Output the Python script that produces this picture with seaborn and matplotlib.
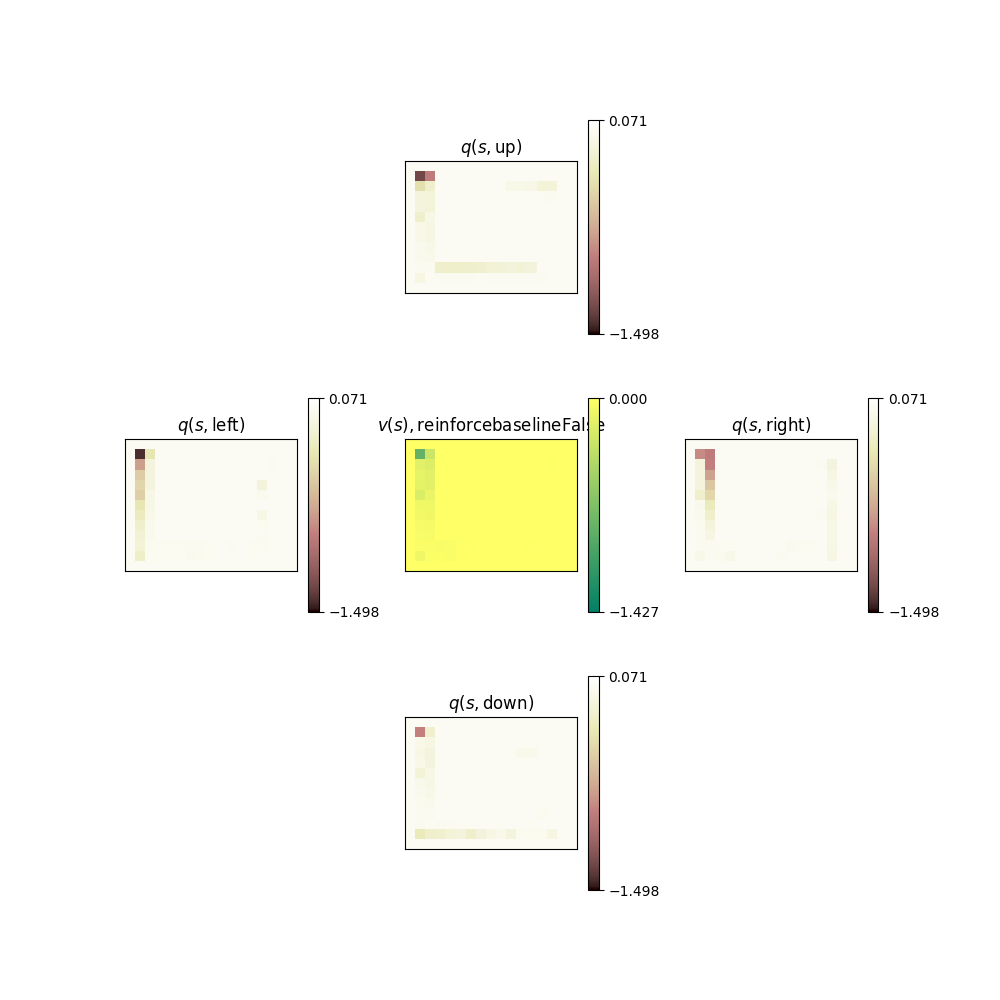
import numpy as np
import matplotlib
matplotlib.use("Agg")
import matplotlib.pyplot as plt
import seaborn as sns

# inner 11 x 15 cells of the grid world (a border of zero cells is added around)
q_up = [
    [-1.31, -0.95, 0, 0, 0, 0, 0, 0, 0, 0, 0, 0, 0, 0, 0],
    [-0.40, -0.22, 0, 0, 0, 0, 0, 0, 0, -0.06, -0.06, -0.07, -0.15, -0.15, 0],
    [-0.12, -0.15, 0, 0, 0, 0, 0, 0, 0, 0, 0, 0, -0.02, -0.02, 0],
    [-0.12, -0.15, 0, 0, 0, 0, 0, 0, 0, 0, 0, 0, 0, 0, 0],
    [-0.22, -0.08, 0, 0, 0, 0, 0, 0, 0, 0, 0, 0, 0, 0, 0],
    [-0.06, -0.10, 0, 0, 0, 0, 0, 0, 0, 0, 0, 0, 0, 0, 0],
    [-0.06, -0.10, 0, 0, 0, 0, 0, 0, 0, 0, 0, 0, 0, 0, 0],
    [-0.04, -0.06, 0, 0, 0, 0, 0, 0, 0, 0, 0, 0, 0, 0, 0],
    [-0.04, -0.05, 0, 0, 0, 0, 0, 0, 0, 0, 0, 0, 0, 0, 0],
    [-0.02, -0.03, -0.22, -0.22, -0.22, -0.22, -0.20, -0.16, -0.16, -0.14, -0.16, -0.14, 0, 0, 0],
    [-0.10, -0.01, -0.02, -0.02, -0.02, -0.02, -0.01, -0.02, -0.02, -0.02, -0.02, -0.02, -0.02, -0.01, 0],
]

q_left = [
    [-1.42, -0.35, 0, 0, 0, 0, 0, 0, 0, 0, 0, 0, 0, 0, 0],
    [-0.78, -0.12, 0, 0, 0, 0, 0, 0, 0, 0, 0, 0, 0, -0.02, 0],
    [-0.52, -0.12, 0, 0, 0, 0, 0, 0, 0, 0, 0, 0, 0, 0, 0],
    [-0.46, -0.12, 0, 0, 0, 0, 0, 0, 0, 0, 0, 0, -0.14, 0, 0],
    [-0.50, -0.08, 0, 0, 0, 0, 0, 0, 0, 0, 0, 0, -0.04, 0, 0],
    [-0.34, -0.08, 0, 0, 0, 0, 0, 0, 0, 0, 0, 0, 0, 0, 0],
    [-0.28, -0.06, 0, 0, 0, 0, 0, 0, 0, 0, 0, 0, -0.08, 0, 0],
    [-0.22, -0.04, 0, 0, 0, 0, 0, 0, 0, 0, 0, 0, -0.03, 0, 0],
    [-0.18, -0.04, 0, 0, 0, 0, 0, 0, 0, 0, 0, 0, -0.02, 0, 0],
    [-0.15, -0.03, -0.03, -0.02, -0.02, -0.03, -0.02, -0.01, 0, -0.02, 0, -0.02, -0.02, -0.01, 0],
    [-0.24, -0.01, -0.01, -0.01, -0.01, -0.04, -0.03, -0.01, 0, -0.01, 0, -0.01, -0.01, 0, 0],
]

v_state = [
    [-0.86, -0.29, 0, 0, 0, 0, 0, 0, 0, 0, 0, 0, 0, 0, 0],
    [-0.17, -0.20, 0, 0, 0, 0, 0, 0, 0, 0, 0, 0, 0, -0.01, 0],
    [-0.14, -0.17, 0, 0, 0, 0, 0, 0, 0, 0, 0, 0, 0, 0, 0],
    [-0.15, -0.17, 0, 0, 0, 0, 0, 0, 0, 0, 0, 0, 0, 0, 0],
    [-0.21, -0.12, 0, 0, 0, 0, 0, 0, 0, 0, 0, 0, 0, 0, 0],
    [-0.08, -0.10, 0, 0, 0, 0, 0, 0, 0, 0, 0, 0, 0, 0, 0],
    [-0.07, -0.09, 0, 0, 0, 0, 0, 0, 0, 0, 0, 0, 0, 0, 0],
    [-0.05, -0.06, 0, 0, 0, 0, 0, 0, 0, 0, 0, 0, 0, 0, 0],
    [-0.04, -0.05, 0, 0, 0, 0, 0, 0, 0, 0, 0, 0, 0, 0, 0],
    [-0.03, -0.03, -0.04, -0.03, -0.01, -0.01, 0, 0, 0, 0, 0, -0.01, 0, 0, 0],
    [-0.09, -0.02, -0.02, -0.03, -0.01, 0, 0, 0, 0, 0, 0, 0, 0, 0, 0],
]

q_right = [
    [-0.87, -0.95, 0, 0, 0, 0, 0, 0, 0, 0, 0, 0, 0, 0, 0],
    [-0.12, -0.92, 0, 0, 0, 0, 0, 0, 0, 0, 0, 0, -0.02, -0.12, 0],
    [-0.12, -0.76, 0, 0, 0, 0, 0, 0, 0, 0, 0, 0, 0, -0.10, 0],
    [-0.12, -0.56, 0, 0, 0, 0, 0, 0, 0, 0, 0, 0, 0, -0.06, 0],
    [-0.22, -0.45, 0, 0, 0, 0, 0, 0, 0, 0, 0, 0, 0, -0.04, 0],
    [-0.05, -0.30, 0, 0, 0, 0, 0, 0, 0, 0, 0, 0, 0, -0.08, 0],
    [-0.04, -0.22, 0, 0, 0, 0, 0, 0, 0, 0, 0, 0, -0.02, -0.10, 0],
    [-0.03, -0.13, 0, 0, 0, 0, 0, 0, 0, 0, 0, 0, 0, -0.08, 0],
    [-0.02, -0.10, 0, 0, 0, 0, 0, 0, 0, 0, 0, 0, 0, -0.08, 0],
    [-0.02, -0.02, -0.02, -0.01, 0, 0, 0, 0, 0, -0.04, -0.02, -0.02, 0, -0.08, 0],
    [-0.06, -0.02, -0.03, -0.06, 0, 0, -0.01, 0, -0.02, 0, 0, 0, 0, -0.10, 0],
]

q_down = [
    [-0.92, -0.20, 0, 0, 0, 0, 0, 0, 0, 0, 0, 0, 0, 0, 0],
    [-0.06, -0.10, 0, 0, 0, 0, 0, 0, 0, 0, 0, 0, 0, -0.01, 0],
    [-0.08, -0.12, 0, 0, 0, 0, 0, 0, 0, 0, -0.05, -0.05, 0, 0, 0],
    [-0.06, -0.12, 0, 0, 0, 0, 0, 0, 0, 0, 0, 0, 0, 0, 0],
    [-0.15, -0.08, 0, 0, 0, 0, 0, 0, 0, 0, 0, 0, 0, 0, 0],
    [-0.05, -0.08, 0, 0, 0, 0, 0, 0, 0, 0, 0, 0, 0, 0, 0],
    [-0.04, -0.06, 0, 0, 0, 0, 0, 0, 0, 0, 0, 0, 0, 0, 0],
    [-0.03, -0.04, 0, 0, 0, 0, 0, 0, 0, 0, 0, 0, 0, 0, 0],
    [-0.02, -0.02, 0, 0, 0, 0, 0, 0, 0, 0, 0, 0, -0.03, 0, 0],
    [-0.02, -0.01, -0.02, -0.02, -0.01, -0.01, 0, 0, -0.01, 0, 0, -0.01, 0, 0, 0],
    [-0.30, -0.22, -0.20, -0.15, -0.12, -0.22, -0.14, -0.10, -0.05, -0.12, -0.03, -0.03, -0.03, -0.10, 0],
]

q_lim = (-1.498, 0.071)
v_lim = (-1.427, 0.000)

titles = {
    "up": r"$q(s,\mathrm{up})$",
    "left": r"$q(s,\mathrm{left})$",
    "right": r"$q(s,\mathrm{right})$",
    "down": r"$q(s,\mathrm{down})$",
    "v": r"$v(s),\mathrm{reinforcebaselineFalse}$",
}


def fmt(v):
    return "{:.3f}".format(v).replace("-", "\u2212")


def draw(ax, grid, cmap, lim, title):
    data = np.pad(np.array(grid, dtype=float), 1)
    sns.heatmap(data, ax=ax, cmap=cmap, vmin=lim[0], vmax=lim[1], square=True,
                xticklabels=False, yticklabels=False, cbar=True)
    for sp in ax.spines.values():
        sp.set_visible(True)
        sp.set_linewidth(0.8)
    ax.set_title(title)
    cb = ax.collections[0].colorbar
    cb.outline.set_linewidth(0.8)
    cb.outline.set_edgecolor("black")
    cb.set_ticks([lim[0], lim[1]])
    cb.set_ticklabels([fmt(lim[0]), fmt(lim[1])])
    cb.ax.tick_params(labelsize=10)


def main():
    fig, axes = plt.subplots(3, 3, figsize=(10, 10), dpi=100)
    plt.subplots_adjust(wspace=0.3, hspace=0.3)
    for ax in axes.flat:
        ax.axis("off")

    panels = [
        (axes[0, 1], q_up, "pink", q_lim, titles["up"]),
        (axes[1, 0], q_left, "pink", q_lim, titles["left"]),
        (axes[1, 1], v_state, "summer", v_lim, titles["v"]),
        (axes[1, 2], q_right, "pink", q_lim, titles["right"]),
        (axes[2, 1], q_down, "pink", q_lim, titles["down"]),
    ]
    for ax, grid, cmap, lim, title in panels:
        ax.axis("on")
        draw(ax, grid, cmap, lim, title)

    fig.savefig("out.png", dpi=100)


if __name__ == '__main__':
    main()
